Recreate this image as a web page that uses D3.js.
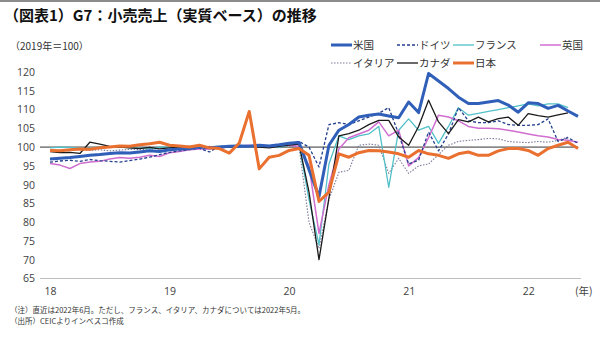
<!DOCTYPE html>
<html><head><meta charset="utf-8">
<script src="https://cdn.jsdelivr.net/npm/d3@7"></script>
<style>
body{margin:0;background:#fff;}
svg{display:block;font-family:"Noto Sans CJK JP","Noto Sans",sans-serif;}
</style></head>
<body><svg id="c" width="600" height="338"></svg>
<script>
const title = "（図表1）G7：小売売上（実質ベース）の推移";
const unitLabel = "（2019年＝100）";
const yearLabels = ["18","19","20","21","22"];
const yearTickIdx = [0,12,24,36,48];
const yTicks = [65,70,75,80,85,90,95,100,105,110,115,120];
const notes = ["（注）直近は2022年6月。ただし、フランス、イタリア、カナダについては2022年5月。","（出所）CEICよりインベスコ作成"];

const usa = [96.8,97.0,97.2,97.5,97.8,98.0,98.3,98.5,98.4,98.7,99.0,98.8,
  99.3,99.5,99.6,100.0,99.8,100.0,100.2,100.3,100.2,100.5,100.3,100.6,
  101.0,101.2,94.0,86.8,100.5,104.5,106.0,108.0,108.5,108.8,108.3,107.8,
  112.0,109.2,119.6,117.6,115.6,113.3,111.6,111.6,112.0,112.4,111.2,109.3,
  111.8,111.6,110.3,111.1,109.6,108.2];
const germany = [96.0,96.3,96.5,96.2,96.7,96.4,96.2,96.0,96.4,96.8,97.3,98.0,
  98.6,99.0,99.3,99.7,98.7,100.2,100.0,100.4,100.2,100.0,100.3,100.5,
  101.0,101.5,100.0,94.7,106.0,106.5,106.0,107.0,108.0,109.0,110.5,103.5,
  95.5,96.5,104.0,99.0,103.5,110.5,107.0,106.5,106.5,107.0,106.0,105.8,
  105.8,106.0,107.5,101.5,102.5,101.0];
const france = [99.8,100.0,99.9,99.7,99.8,100.0,99.9,100.1,99.8,99.7,99.5,100.0,
  100.0,100.2,100.1,99.9,100.0,100.2,100.3,100.5,100.1,100.4,100.3,100.0,
  100.5,100.8,86.0,74.0,95.5,103.0,102.0,103.0,103.5,105.5,89.3,104.5,
  107.5,104.5,105.5,101.0,105.5,110.5,108.5,109.0,109.5,110.0,110.5,111.0,
  111.5,111.0,111.5,111.5,110.5];
const uk = [95.6,95.2,94.3,95.6,96.0,96.2,96.8,97.2,97.0,97.3,97.8,97.5,
  98.5,98.8,99.3,99.5,99.5,99.8,100.0,100.3,100.5,100.2,100.3,100.5,
  100.5,100.2,95.0,77.0,90.0,99.5,102.5,103.5,104.5,106.7,103.0,104.5,
  95.0,97.2,102.5,108.5,108.0,107.0,105.5,105.0,105.0,104.9,104.5,104.0,
  103.5,103.0,102.7,102.0,101.8,101.3];
const italy = [99.3,99.0,99.2,99.4,99.1,99.3,99.0,99.2,99.4,99.3,99.5,99.6,
  99.8,100.0,100.1,99.9,100.2,100.0,100.3,100.1,100.0,99.9,100.2,99.8,
  100.3,100.0,80.0,73.0,86.0,93.3,93.8,100.5,100.8,100.5,93.0,97.0,
  93.0,95.0,95.5,98.0,100.5,101.5,101.8,102.0,102.3,102.2,101.5,101.3,
  101.2,101.5,101.3,101.8,102.7];
const canada = [98.8,98.5,98.6,98.3,101.3,100.8,100.2,100.0,99.8,99.6,99.9,99.5,
  99.8,100.0,100.2,99.9,100.1,99.8,100.0,100.1,100.3,100.0,99.8,100.2,
  100.5,100.8,88.0,70.0,86.5,103.0,103.6,104.5,106.0,107.1,107.1,102.7,
  100.5,105.5,112.5,106.7,103.6,107.3,106.7,108.0,106.7,107.6,108.0,105.8,
  108.9,108.4,108.0,108.6,109.1];
const japan = [99.1,99.0,99.3,99.5,99.4,99.8,100.0,100.3,100.2,100.6,100.9,101.3,
  100.5,100.3,100.0,100.5,99.8,99.6,98.4,101.1,109.5,94.2,97.3,97.8,
  99.1,99.6,97.8,85.5,88.0,98.2,97.3,98.5,99.1,99.0,98.7,98.2,
  97.3,99.1,98.2,97.8,97.0,98.2,98.7,97.8,97.8,99.0,99.6,99.6,
  99.1,97.8,99.6,100.5,101.3,99.6];

const series = [
  {name:"米国", data:usa, color:"#2f5fb8", width:3, dash:null},
  {name:"ドイツ", data:germany, color:"#24408e", width:1.3, dash:"3,2"},
  {name:"フランス", data:france, color:"#52c0c8", width:1.3, dash:null},
  {name:"英国", data:uk, color:"#d06ed0", width:1.5, dash:null},
  {name:"イタリア", data:italy, color:"#7a7a9a", width:1.1, dash:"1.5,1.5"},
  {name:"カナダ", data:canada, color:"#1a1a1a", width:1.3, dash:null},
  {name:"日本", data:japan, color:"#ea7030", width:3, dash:null}
];
const drawOrder = ["イタリア","フランス","英国","ドイツ","カナダ","米国","日本"];

const svg = d3.select("#c");
const x = d3.scaleLinear().domain([0,53]).range([50,578]);
const y = d3.scaleLinear().domain([65,120]).range([278.5,72]);

// top border
svg.append("rect").attr("x",0).attr("y",0).attr("width",600).attr("height",2).attr("fill","#8c8c8c");

svg.append("text").attr("x",4).attr("y",21).attr("font-size",15).attr("font-weight","bold")
  .attr("fill","#111").text(title);
svg.append("text").attr("x",10).attr("y",50).attr("font-size",10).attr("fill","#333").text(unitLabel);

// y axis
const ya = svg.append("g").attr("transform","translate(35,0)")
  .call(d3.axisLeft(y).tickValues(yTicks).tickSize(0).tickPadding(0).tickFormat(d3.format("d")));
ya.select(".domain").remove();
ya.selectAll("text").attr("font-size",10.5).attr("fill","#404040")
  .attr("font-family","'Open Sans','Noto Sans',sans-serif");

// x axis
const xa = svg.append("g").attr("transform",`translate(0,${y(65)})`)
  .call(d3.axisBottom(x).tickValues(yearTickIdx).tickSize(0).tickPadding(9)
    .tickFormat((d,i)=>yearLabels[i]));
xa.select(".domain").remove();
xa.selectAll("text").attr("font-size",10.5).attr("fill","#404040")
  .attr("font-family","'Open Sans','Noto Sans',sans-serif");
svg.append("line").attr("x1",40).attr("x2",581).attr("y1",y(65)).attr("y2",y(65))
  .attr("stroke","#bdbdbd").attr("stroke-width",1.2);
svg.append("text").attr("x",575).attr("y",y(65)+16).attr("font-size",10.5).attr("fill","#404040").text("(年)");

// reference line at 100
svg.append("line").attr("x1",40).attr("x2",x(53)).attr("y1",y(100)).attr("y2",y(100))
  .attr("stroke","#333").attr("stroke-width",1);

const line = d3.line().x((d,i)=>x(i)).y(d=>y(d));
drawOrder.forEach(n=>{
  const s = series.find(v=>v.name===n);
  svg.append("path").datum(s.data).attr("d",line).attr("fill","none")
    .attr("stroke",s.color).attr("stroke-width",s.width)
    .attr("stroke-dasharray",s.dash).attr("stroke-linejoin","round");
});

// legend
const legCols = [331,397,453,540];
const legRows = [45,63];
series.forEach((s,i)=>{
  const r = i<4?0:1, c = i<4?i:i-4;
  const lx = legCols[c], ly = legRows[r];
  svg.append("line").attr("x1",lx).attr("x2",lx+21).attr("y1",ly).attr("y2",ly)
    .attr("stroke",s.color).attr("stroke-width",s.width).attr("stroke-dasharray",s.dash);
  svg.append("text").attr("x",lx+22).attr("y",ly+4).attr("font-size",10.5).attr("fill","#333").text(s.name);
});

// notes
notes.forEach((t,i)=>{
  svg.append("text").attr("x",10).attr("y",313+i*11).attr("font-size",7.5).attr("fill","#333").text(t);
});
</script></body></html>
